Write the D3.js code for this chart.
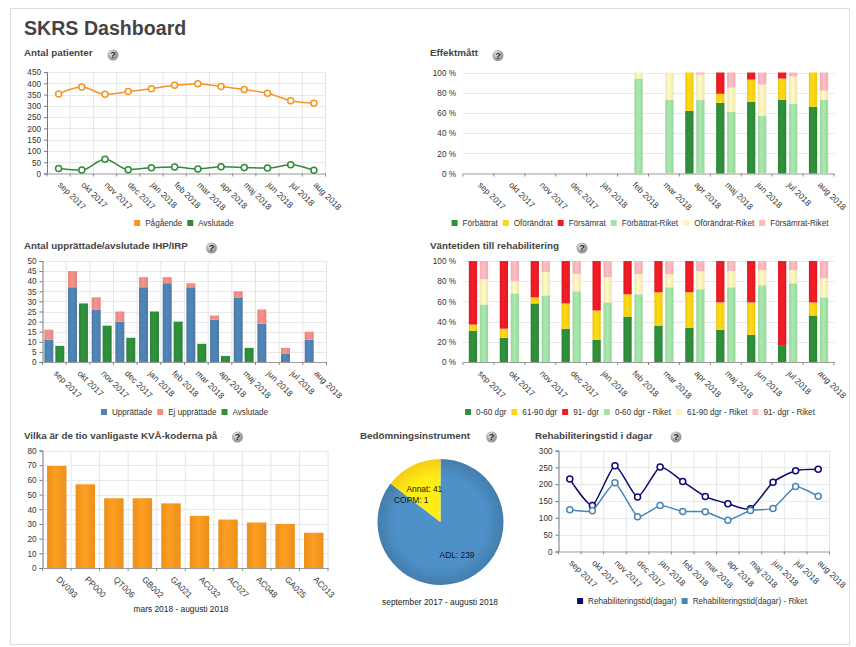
<!DOCTYPE html>
<html lang="sv">
<head>
<meta charset="UTF-8">
<title>SKRS Dashboard</title>
<script src="https://cdn.jsdelivr.net/npm/d3@7"></script>
<style>
  html, body { margin: 0; padding: 0; background: #fff; overflow: hidden; }
  svg { display: block; }
  text { font-family: "Liberation Sans", Arial, sans-serif; fill: #333; }
  .title { font-size: 9.8px; font-weight: bold; fill: #444; }
  .tick text { font-size: 8.2px; fill: #333; }
  .legend text { font-size: 8.15px; fill: #333; }
  .sub { font-size: 8.4px; fill: #222; }
</style>
</head>
<body>
<script>
// ---- data ----
var months = ["sep 2017","okt 2017","nov 2017","dec 2017","jan 2018","feb 2018","mar 2018","apr 2018","maj 2018","jun 2018","jul 2018","aug 2018"];

// antal patienter
var pagaende  = [352,383,351,363,376,391,398,386,372,356,323,312];
var avslutade = [22,15,63,17,26,29,20,30,27,24,39,14];

// effektmatt (%)
var forbattrat  = [0,0,0,0,0,0,0,62,70,71,73,66];
var oforandrat  = [0,0,0,0,0,0,0,38,9,22,21,34];
var forsamrat   = [0,0,0,0,0,0,0,0,21,7,6,0];
var forbattratR = [0,0,0,0,0,94,73,73,61,57,69,73];
var oforandratR = [0,0,0,0,0,6,27,25,24,31,27,9];
var forsamratR  = [0,0,0,0,0,0,0,2,15,12,4,18];

// IHP/IRP
var upprattade    = [11,37,26,20,37,39,37,21,32,19,4,11];
var ejUpprattade  = [5,8,6,5,5,3,2,2,3,7,3,4];
var avslutadeIhp  = [8,29,18,12,25,20,9,3,7,0,0,0];

// vantetid (%)
var dgr060  = [31,24,58,33,22,45,36,34,32,27,16,46];
var dgr6190 = [6,9,6,25,29,22,33,35,27,32,0,13];
var dgr91   = [63,67,36,42,49,33,31,31,41,41,84,41];
var dgr060R  = [57,68,66,70,59,67,74,72,74,76,78,64];
var dgr6190R = [25,12,23,17,25,20,13,18,16,15,13,19];
var dgr91R   = [18,20,11,13,16,13,13,10,10,9,9,17];

// KVA
var kvaCodes  = ["DV093","PP000","QT006","GB002","GA021","AC032","AC027","AC048","GA025","AC013"];
var kvaValues = [69.5,57,47.5,47.5,44,35.5,33,31,30,24];

// bedomningsinstrument
var pieLabels = ["ADL","COPM","Annat"];
var pieValues = [239,1,41];

// rehabiliteringstid
var rehabTid  = [215,137,255,162,251,208,163,142,127,206,240,244];
var rehabTidR = [124,121,204,103,137,119,118,93,122,128,193,164];

// ---- colours ----
var cGreen = "#2f8f3a", cYellow = "#ffd514", cRed = "#ee1c25",
    cLGreen = "#a4e3a8", cLYellow = "#fff4bd", cLRed = "#ffb8bf",
    cOrange = "#f7931e", cBlue = "#4f83b4", cSalmon = "#f28f86", cNavy = "#0b0b73";

var svg = d3.select("body").append("svg").attr("width", 856).attr("height", 647);
var defs = svg.append("defs");

svg.append("rect").attr("x", 10.5).attr("y", 8.5).attr("width", 839).attr("height", 636)
    .attr("fill", "#fff").attr("stroke", "#ddd");

svg.append("text").attr("x", 24).attr("y", 35).text("SKRS Dashboard")
    .style("font-size", "19.6px").style("font-weight", "bold").style("fill", "#444");

// soft shading on the bars, one gradient per colour
var gradIds = {};
function barFill(color) {
    if (!gradIds[color]) {
        var id = "g" + Object.keys(gradIds).length;
        gradIds[color] = id;
        var g = defs.append("linearGradient").attr("id", id);
        g.append("stop").attr("offset", "0%").attr("stop-color", d3.color(color).darker(0.18));
        g.append("stop").attr("offset", "45%").attr("stop-color", d3.color(color).brighter(0.08));
        g.append("stop").attr("offset", "100%").attr("stop-color", d3.color(color).darker(0.18));
    }
    return "url(#" + gradIds[color] + ")";
}

function title(text, x, y, ix, iy) {
    svg.append("text").attr("class", "title").attr("x", x).attr("y", y).text(text);
    var id = "help" + ix;
    var g = defs.append("radialGradient").attr("id", id).attr("cx", "40%").attr("cy", "35%");
    g.append("stop").attr("offset", "0%").attr("stop-color", "#eee");
    g.append("stop").attr("offset", "100%").attr("stop-color", "#999");
    svg.append("circle").attr("cx", ix).attr("cy", iy).attr("r", 5.5).attr("fill", "url(#" + id + ")");
    svg.append("text").attr("x", ix).attr("y", iy + 3.2).attr("text-anchor", "middle").text("?")
        .style("font-size", "9px").style("font-weight", "bold").style("fill", "#222");
}

function legend(items, cx, y) {
    var g = svg.append("g").attr("class", "legend");
    var x = 0;
    items.forEach(function (it) {
        g.append("rect").attr("x", x).attr("y", y - 3).attr("width", 6).attr("height", 6).attr("fill", it[1]);
        var t = g.append("text").attr("x", x + 11).attr("y", y + 3).text(it[0]);
        x += 11 + t.node().getComputedTextLength() + 5;
    });
    g.attr("transform", "translate(" + (cx - (x - 5) / 2) + ",0)");
}

// frame: scales, grid, axes. box = [x0, x1, yTop, yBottom]
function frame(cats, box, yMax, yStep, opts) {
    opts = opts || {};
    var x = d3.scaleBand().domain(cats).range([box[0], box[1]]);
    var y = d3.scaleLinear().domain([0, yMax]).range([box[3], box[2]]);
    var yTicks = d3.range(0, yMax + 1, yStep);
    var edges = cats.map(function (c) { return x(c); }).concat([box[1]]);
    var g = svg.append("g");

    g.selectAll(".hg").data(yTicks.slice(1)).enter().append("line")
        .attr("x1", box[0]).attr("x2", box[1])
        .attr("y1", function (d) { return Math.round(y(d)) + 0.5; })
        .attr("y2", function (d) { return Math.round(y(d)) + 0.5; })
        .attr("stroke", "#e9e9e9");

    if (!opts.noVGrid) {
        g.selectAll(".vg").data(edges.slice(1)).enter().append("line")
            .attr("x1", function (d) { return d; }).attr("x2", function (d) { return d; })
            .attr("y1", box[2]).attr("y2", box[3]).attr("stroke", "#e6e6ea");
    }

    // y axis
    var yAxis = d3.axisLeft(y).tickValues(yTicks).tickSize(opts.noVGrid ? 0 : 3)
        .tickPadding(opts.noVGrid ? 7 : 3)
        .tickFormat(function (d) { return opts.pct ? d + " %" : d; });
    var ya = svg.append("g").attr("class", "yaxis").attr("transform", "translate(" + box[0] + ",0)").call(yAxis);
    ya.selectAll("line").attr("stroke", "#777");
    ya.select(".domain").attr("stroke", opts.noVGrid ? "none" : "#777");
    ya.selectAll("text").attr("dy", "0.34em");

    // labels sit on the band centre, ticks on the band edges
    var xAxis = d3.axisBottom(x).tickSize(0).tickPadding(0);
    var xa = svg.append("g").attr("class", "xaxis").attr("transform", "translate(0," + box[3] + ")").call(xAxis);
    xa.select(".domain").attr("stroke", "#999");
    xa.selectAll(".tick text")
        .attr("text-anchor", "start").attr("dy", 0).attr("y", 0)
        .attr("transform", "translate(-1,12) rotate(45)")
        .style("font-size", "8.5px");
    xa.selectAll(".et").data(edges).enter().append("line").attr("class", "et")
        .attr("x1", function (d) { return d; }).attr("x2", function (d) { return d; })
        .attr("y1", 0).attr("y2", 3).attr("stroke", "#888");

    return { x: x, y: y, g: svg.append("g") };
}

function lineChart(f, cats, values, color, curve) {
    var line = d3.line()
        .x(function (d, i) { return f.x(cats[i]) + f.x.bandwidth() / 2; })
        .y(function (d) { return f.y(d); })
        .curve(curve);
    f.g.append("path").attr("d", line(values)).attr("fill", "none").attr("stroke", color).attr("stroke-width", 1.5);
    f.g.selectAll(null).data(values).enter().append("circle")
        .attr("cx", function (d, i) { return f.x(cats[i]) + f.x.bandwidth() / 2; })
        .attr("cy", function (d) { return f.y(d); })
        .attr("r", 3).attr("fill", "#fff").attr("stroke", color).attr("stroke-width", 1.5);
}

// groups = list of stacks, each stack a list of [values, color]
function stackedBars(f, cats, groups, padOuter, padInner) {
    var x1 = d3.scaleBand().domain(d3.range(groups.length))
        .range([0, f.x.bandwidth()]).paddingOuter(padOuter).paddingInner(padInner);
    groups.forEach(function (stack, gi) {
        var base = cats.map(function () { return 0; });
        stack.forEach(function (s) {
            f.g.selectAll(null).data(s[0]).enter().append("rect")
                .attr("x", function (d, i) { return f.x(cats[i]) + x1(gi); })
                .attr("width", x1.bandwidth())
                .attr("y", function (d, i) { return f.y(base[i] + d); })
                .attr("height", function (d) { return f.y(0) - f.y(d); })
                .attr("fill", barFill(s[1]));
            base = base.map(function (b, i) { return b + s[0][i]; });
        });
    });
}

// --- Antal patienter
title("Antal patienter", 24, 56, 113, 55);
var f1 = frame(months, [47, 325.5, 72, 173.5], 450, 50);
lineChart(f1, months, pagaende, cOrange, d3.curveMonotoneX);
lineChart(f1, months, avslutade, "#2f8a3a", d3.curveMonotoneX);
legend([["Pågående", cOrange], ["Avslutade", "#2f8a3a"]], 184, 223);

// --- Effektmatt
title("Effektmått", 430, 56, 498, 55.5);
var f2 = frame(months, [463, 834, 72.5, 173.5], 100, 20, { pct: true, noVGrid: true });
stackedBars(f2, months, [
    [[forbattrat, cGreen], [oforandrat, cYellow], [forsamrat, cRed]],
    [[forbattratR, cLGreen], [oforandratR, cLYellow], [forsamratR, cLRed]]
], 0.53, 0.245);
legend([["Förbättrat", cGreen], ["Oförändrat", cYellow], ["Försämrat", cRed],
    ["Förbättrat-Riket", cLGreen], ["Oförändrat-Riket", cLYellow], ["Försämrat-Riket", cLRed]], 640, 223);

// --- IHP/IRP
title("Antal upprättade/avslutade IHP/IRP", 24, 249, 211.5, 248);
var f3 = frame(months, [42.5, 326.5, 261, 362], 50, 5);
stackedBars(f3, months, [
    [[upprattade, cBlue], [ejUpprattade, cSalmon]],
    [[avslutadeIhp, cGreen]]
], 0.17, 0.18);
legend([["Upprättade", cBlue], ["Ej upprättade", cSalmon], ["Avslutade", cGreen]], 184.5, 412);

// --- Vantetid
title("Väntetiden till rehabilitering", 430, 249, 582, 248);
var f4 = frame(months, [463, 834, 261, 362], 100, 20, { pct: true, noVGrid: true });
stackedBars(f4, months, [
    [[dgr060, cGreen], [dgr6190, cYellow], [dgr91, cRed]],
    [[dgr060R, cLGreen], [dgr6190R, cLYellow], [dgr91R, cLRed]]
], 0.53, 0.245);
legend([["0-60 dgr", cGreen], ["61-90 dgr", cYellow], ["91- dgr", cRed],
    ["0-60 dgr - Riket", cLGreen], ["61-90 dgr - Riket", cLYellow], ["91- dgr - Riket", cLRed]], 640, 412);

// --- KVA
title("Vilka är de tio vanligaste KVÅ-koderna på", 24, 438.5, 237.5, 437);
var f5 = frame(kvaCodes, [42.5, 328, 450.5, 568], 80, 10);
stackedBars(f5, kvaCodes, [[[kvaValues, "#fb9a1f"]]], 0.235, 0);
svg.append("text").attr("class", "sub").attr("x", 181).attr("y", 612).attr("text-anchor", "middle")
    .text("mars 2018 - augusti 2018");

// --- Pie
title("Bedömningsinstrument", 360, 438.5, 491.5, 437);
var pieColors = ["#4682b4", "#1f5f8f", "#ffd514"];
var pieX = 440.5, pieY = 522, pieR = 63;
var pieG = svg.append("g").attr("transform", "translate(" + pieX + "," + pieY + ")");
var arcs = d3.pie().sort(null)(pieValues);
var arc = d3.arc().innerRadius(0).outerRadius(pieR);
var labelArc = d3.arc().innerRadius(36.5).outerRadius(36.5);
pieColors.forEach(function (c, i) {
    var g = defs.append("radialGradient").attr("id", "pie" + i).attr("gradientUnits", "userSpaceOnUse")
        .attr("cx", 0).attr("cy", 0).attr("r", pieR);
    g.append("stop").attr("offset", "0%").attr("stop-color", d3.color(c).brighter(0.3));
    g.append("stop").attr("offset", "72%").attr("stop-color", d3.color(c).brighter(0.3));
    g.append("stop").attr("offset", "100%").attr("stop-color", d3.color(c).darker(0.12));
});
pieG.selectAll("path").data(arcs).enter().append("path")
    .attr("d", arc)
    .attr("fill", function (d, i) { return "url(#pie" + i + ")"; });
pieG.selectAll("text").data(arcs).enter().append("text")
    .attr("transform", function (d) { return "translate(" + labelArc.centroid(d) + ")"; })
    .attr("text-anchor", "middle").attr("dy", "0.35em")
    .style("font-size", "8.4px").style("fill", "#111")
    .text(function (d, i) { return pieLabels[i] + ": " + d.value; });
svg.append("text").attr("class", "sub").attr("x", 440).attr("y", 604.5).attr("text-anchor", "middle")
    .text("september 2017 - augusti 2018");

// --- Rehabiliteringstid
title("Rehabiliteringstid i dagar", 535, 438.5, 676, 437);
var f7 = frame(months, [558.5, 829.5, 450.5, 551.5], 300, 50);
lineChart(f7, months, rehabTid, cNavy, d3.curveCardinal.tension(0.4));
lineChart(f7, months, rehabTidR, "#4a86b5", d3.curveCardinal.tension(0.6));
legend([["Rehabiliteringstid(dagar)", cNavy], ["Rehabiliteringstid(dagar) - Riket", "#4a86b5"]], 692, 601);
</script>
</body>
</html>
